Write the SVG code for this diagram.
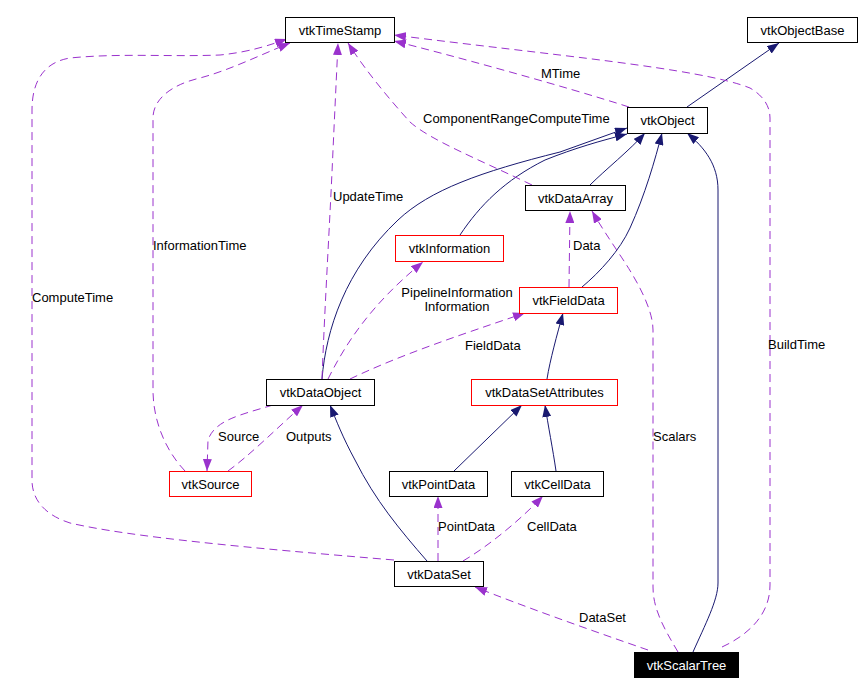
<svg xmlns="http://www.w3.org/2000/svg" width="864" height="684" viewBox="0 0 864 684">
<defs>
<marker id="ah-inh" viewBox="0 0 12 9" refX="12" refY="4.5" markerWidth="12" markerHeight="9" markerUnits="userSpaceOnUse" orient="auto"><path d="M0,0 L12,4.5 L0,9 z" fill="#191970"/></marker>
<marker id="ah-use" viewBox="0 0 12 9" refX="12" refY="4.5" markerWidth="12" markerHeight="9" markerUnits="userSpaceOnUse" orient="auto"><path d="M0,0 L12,4.5 L0,9 z" fill="#9a32cd"/></marker>
</defs>
<style>
text { font-family: "Liberation Sans", Arial, sans-serif; font-size: 13px; fill: #000; }
.node rect { fill: #fff; stroke: #000; stroke-width: 1; }
.node.red rect { stroke: #ff0000; }
.node.cur rect { fill: #000; }
.node.cur text { fill: #fff; }
.node text { text-anchor: middle; }
.inh { fill: none; stroke: #191970; stroke-width: 1; marker-end: url(#ah-inh); }
.use { fill: none; stroke: #9a32cd; stroke-width: 1; stroke-dasharray: 8,5; marker-end: url(#ah-use); }
</style>
<rect width="864" height="684" fill="#fff"/>
<g id="connectors">
<path class="inh" d="M687,107 L779,43"/>
<path class="inh" d="M322,379 C326,330 345,270 398,220 C430,190 480,172 560,152 L627,128"/>
<path class="inh" d="M460,235 C480,205 505,180 545,160 C575,148 600,141 627,134"/>
<path class="inh" d="M590,185 C605,170 630,150 645,133"/>
<path class="inh" d="M582,287 C600,272 620,250 630,228 C645,195 655,160 662,133"/>
<path class="inh" d="M693,652 C705,625 718,600 718,583 L718,190 C718,165 705,148 687,133"/>
<path class="inh" d="M547,379 C550,360 557,335 563,313"/>
<path class="inh" d="M454,471 L522,405"/>
<path class="inh" d="M556,471 C553,450 548,425 545,405"/>
<path class="inh" d="M427,561 C400,530 375,500 355,460 C343,438 336,420 330,405"/>
<path class="use" d="M629,107 C560,85 450,55 394,41"/>
<path class="use" d="M722,647 C748,635 770,615 770,585 L770,118 C770,105 762,95 750,88 C700,68 550,55 394,35"/>
<path class="use" d="M532,185 C480,160 430,140 410,122 C390,100 365,70 348,43"/>
<path class="use" d="M322,379 C325,300 330,220 333,150 L338,43"/>
<path class="use" d="M185,471 C165,450 153,420 153,390 L153,118 C153,100 170,85 200,78 C230,70 260,55 290,43"/>
<path class="use" d="M394,560 C250,548 130,537 70,523 C45,515 32,500 32,480 L32,110 C32,80 45,62 70,58 C120,53 170,57 220,55 C250,52 270,45 287,39"/>
<path class="use" d="M328,379 C345,345 370,305 423,262"/>
<path class="use" d="M350,379 C400,355 460,335 525,313"/>
<path class="use" d="M569,287 L570,211"/>
<path class="use" d="M678,652 C665,630 653,610 653,587 L653,330 C653,305 630,270 620,255 C610,240 600,225 592,211"/>
<path class="use" d="M648,650 C590,630 520,605 475,587"/>
<path class="use" d="M273,405 C240,415 215,420 208,440 L207,471"/>
<path class="use" d="M228,471 C250,455 275,430 303,405"/>
<path class="use" d="M438,561 L438,496"/>
<path class="use" d="M463,561 C490,545 520,520 543,496"/>
<text x="541" y="78">MTime</text>
<text x="768" y="349">BuildTime</text>
<text x="423" y="123">ComponentRangeComputeTime</text>
<text x="333" y="201">UpdateTime</text>
<text x="153" y="250">InformationTime</text>
<text x="32" y="302">ComputeTime</text>
<text x="457" y="297" text-anchor="middle">PipelineInformation</text>
<text x="457" y="311" text-anchor="middle">Information</text>
<text x="465" y="350">FieldData</text>
<text x="573" y="250">Data</text>
<text x="653" y="441">Scalars</text>
<text x="579" y="622">DataSet</text>
<text x="218" y="441">Source</text>
<text x="286" y="441">Outputs</text>
<text x="438" y="531">PointData</text>
<text x="527" y="531">CellData</text>
</g>
<g id="vtkTimeStamp" class="node"><rect x="285.5" y="17.5" width="109" height="25"/><text x="340" y="35">vtkTimeStamp</text></g>
<g id="vtkObjectBase" class="node"><rect x="747.5" y="17.5" width="110" height="25"/><text x="802.5" y="35">vtkObjectBase</text></g>
<g id="vtkObject" class="node"><rect x="627.5" y="107.5" width="80" height="26"/><text x="667.5" y="125">vtkObject</text></g>
<g id="vtkDataArray" class="node"><rect x="525.5" y="185.5" width="100" height="25"/><text x="575.5" y="203">vtkDataArray</text></g>
<g id="vtkInformation" class="node red"><rect x="395.5" y="235.5" width="108" height="26"/><text x="449.5" y="253">vtkInformation</text></g>
<g id="vtkFieldData" class="node red"><rect x="519.5" y="287.5" width="98" height="26"/><text x="568.5" y="305">vtkFieldData</text></g>
<g id="vtkDataObject" class="node"><rect x="266.5" y="379.5" width="108" height="26"/><text x="320.5" y="397">vtkDataObject</text></g>
<g id="vtkDataSetAttributes" class="node red"><rect x="471.5" y="379.5" width="146" height="26"/><text x="544.5" y="397">vtkDataSetAttributes</text></g>
<g id="vtkSource" class="node red"><rect x="169.5" y="471.5" width="82" height="25"/><text x="210.5" y="489">vtkSource</text></g>
<g id="vtkPointData" class="node"><rect x="389.5" y="471.5" width="98" height="25"/><text x="438.5" y="489">vtkPointData</text></g>
<g id="vtkCellData" class="node"><rect x="511.5" y="471.5" width="92" height="25"/><text x="557.5" y="489">vtkCellData</text></g>
<g id="vtkDataSet" class="node"><rect x="394.5" y="561.5" width="89" height="25"/><text x="439" y="579">vtkDataSet</text></g>
<g id="vtkScalarTree" class="node cur"><rect x="634.5" y="652.5" width="104" height="25"/><text x="686.5" y="670">vtkScalarTree</text></g>
</svg>
